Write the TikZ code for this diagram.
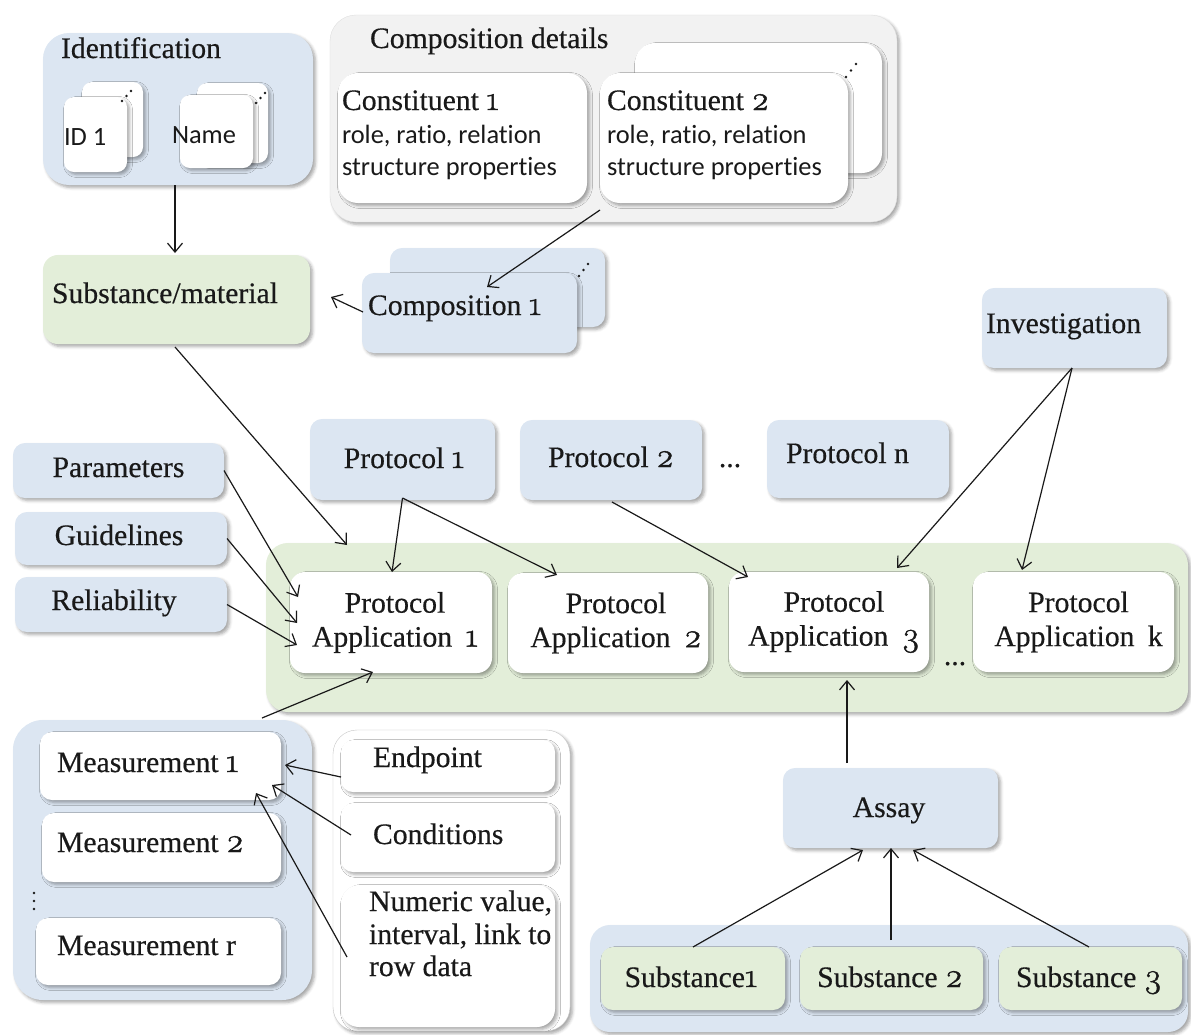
\documentclass[tikz,border=0pt]{standalone}
\usepackage{fontspec}
\setmainfont{Liberation Serif}[FakeBold=0.4]
\newfontfamily\calfont{Carlito}[Ligatures=NoCommon]
\newfontfamily\osfont{Latin Modern Roman}[Numbers=OldStyle, Scale=1.15, FakeBold=1.2]
\usetikzlibrary{arrows.meta,fit,calc,shadows.blur}
\definecolor{paleblue}{RGB}{220,230,242}
\definecolor{palegreen}{RGB}{227,238,217}
\definecolor{palegray}{RGB}{242,242,242}
\definecolor{ink}{RGB}{25,25,25}
\newcommand\os[1]{{\osfont #1}}

\begin{document}
\begin{tikzpicture}[x=1pt,y=-1pt,
  every node/.style={inner sep=0pt, outer sep=0pt, text=ink,
    font=\fontsize{29.7}{34}\selectfont},
  sans/.style={font=\calfont\fontsize{26.4}{33}\selectfont},
  soft/.style={blur shadow={shadow xshift=2.5pt, shadow yshift=-2.5pt,
    shadow blur radius=3pt, shadow opacity=35}},
  card/.style={soft, fill=white, rounded corners=12pt},
  bluebox/.style={soft, fill=paleblue, rounded corners=12pt},
  greenbox/.style={soft, fill=palegreen, rounded corners=12pt},
  group/.style={rounded corners=26pt},
  link/.style={draw=ink, line width=1.2pt,
    -{Straight Barb[length=9pt,width=15pt,line width=1.2pt]}},
  dot/.style={fill=ink}
]
\useasboundingbox (0,0) rectangle (1191,1034);

% ---------- identification ----------
\node[bluebox, group, fit={(43,33)(313,185)}] (ident) {};
\node[anchor=base west] (identT) at (61,58) {Identification};
\node[card, rounded corners=10pt, fit={(82,82)(143,157)}] (idB) {};
\node[card, rounded corners=10pt, fit={(64,97)(127,172)}] (idF) {};
\node[sans, anchor=base west] (idT) at (64,145) {ID 1};
\node[card, rounded corners=10pt, fit={(197,83)(268,163)}] (nameB) {};
\node[card, rounded corners=10pt, fit={(180,95)(253,168)}] (nameF) {};
\node[sans, anchor=base west] (nameT) at (172,143) {Name};
\foreach \t in {0,0.5,1} {
  \fill[dot] ($(122,101)!\t!(131,91)$) circle (1.3pt);
  \fill[dot] ($(256,103)!\t!(265,93)$) circle (1.3pt);
}

% ---------- composition details ----------
\node[soft, group, fill=palegray, draw=black!12, fit={(330,15)(897,222)}] (compdet) {};
\node[anchor=base west] (compdetT) at (370,48) {Composition details};
\node[card, rounded corners=20pt, fit={(635,43)(882,173)}] (conB) {};
\node[card, rounded corners=20pt, fit={(338,73)(587,203)}] (con1) {};
\node[card, rounded corners=20pt, fit={(600,73)(848,203)}] (con2) {};
\node[anchor=base west] (con1a) at (342,110) {Constituent \os{1}};
\node[sans, anchor=base west] (con1b) at (342,143) {role, ratio, relation};
\node[sans, anchor=base west] (con1c) at (342,175) {structure properties};
\node[anchor=base west] (con2a) at (607,110) {Constituent \os{2}};
\node[sans, anchor=base west] (con2b) at (607,143) {role, ratio, relation};
\node[sans, anchor=base west] (con2c) at (607,175) {structure properties};
\foreach \t in {0,0.5,1}
  \fill[dot] ($(846,77)!\t!(856,64)$) circle (1.3pt);

% ---------- substance and composition ----------
\node[greenbox, rounded corners=15pt, fit={(43,255)(310,344)}] (subst) {};
\node[anchor=base west] (substT) at (52,303) {Substance/material};
\node[bluebox, fit={(390,248)(605,327)}] (compB) {};
\node[bluebox, fit={(362,273)(577,353)}] (compF) {};
\node[anchor=base west] (compT) at (368,315) {Composition \os{1}};
\foreach \t in {0,0.5,1}
  \fill[dot] ($(579,276)!\t!(588,264)$) circle (1.3pt);

% ---------- inputs on the left ----------
\node[bluebox, fit={(13,443)(224,498)}] (params) {};
\node[bluebox, fit={(15,512)(227,565)}] (guide) {};
\node[bluebox, fit={(15,577)(227,632)}] (reliab) {};
\node[anchor=base] (paramsT) at ($(params.center)+(0,6.5)$) {Parameters};
\node[anchor=base] (guideT) at ($(guide.center)+(-2,6.5)$) {Guidelines};
\node[anchor=base] (reliabT) at ($(reliab.center)+(-7,5.5)$) {Reliability};

% ---------- protocols and investigation ----------
\node[bluebox, fit={(310,419)(495,500)}] (prot1) {};
\node[bluebox, fit={(520,420)(702,500)}] (prot2) {};
\node[anchor=base] (prot1T) at ($(prot1.center)+(1.5,8.5)$) {Protocol \os{1}};
\node[anchor=base] (prot2T) at ($(prot2.center)+(0,7)$) {Protocol \os{2}};
\node[anchor=base] (pdots) at (730,467) {...};
\node[bluebox, fit={(767,420)(949,498)}] (protn) {};
\node[anchor=base west] (protnT) at (786,463) {Protocol n};
\node[bluebox, fit={(982,288)(1167,368)}] (invest) {};
\node[anchor=base west] (investT) at (986,333) {Investigation};

% ---------- protocol applications ----------
\node[greenbox, rounded corners=22pt, fit={(266,543)(1188,712)}] (paband) {};
\node[card, rounded corners=15pt, fit={(290,572)(492,673)}] (pa1) {};
\node[card, rounded corners=15pt, fit={(508,573)(708,673)}] (pa2) {};
\node[card, rounded corners=15pt, fit={(729,572)(929,672)}] (pa3) {};
\node[card, rounded corners=15pt, fit={(973,572)(1174,672)}] (pak) {};
\node[align=center] (pa1T) at ($(pa1.center)+(4,0)$) {Protocol\\Application\hspace{0.45em}\os{1}};
\node[align=center] (pa2T) at ($(pa2.center)+(8,0)$) {Protocol\\Application\hspace{0.45em}\os{2}};
\node[align=center] (pa3T) at ($(pa3.center)+(5,0)$) {Protocol\\Application\hspace{0.45em}\os{3}};
\node[align=center] (pakT) at ($(pak.center)+(5,0)$) {Protocol\\Application\hspace{0.45em}k};
\node[anchor=base] (padots) at (955,665) {...};

% ---------- assay and substances ----------
\node[bluebox, fit={(783,768)(998,848)}] (assay) {};
\node[anchor=base] (assayT) at ($(assay.center)+(-1.5,9)$) {Assay};
\node[bluebox, rounded corners=20pt, fit={(590,925)(1188,1032)}] (subpanel) {};
\node[greenbox, fit={(601,947)(785,1010)}] (s1) {};
\node[greenbox, fit={(800,947)(983,1010)}] (s2) {};
\node[greenbox, fit={(999,947)(1182,1010)}] (s3) {};
\node[anchor=base] (s1T) at ($(s1.center)+(-2,8.5)$) {Substance\os{1}};
\node[anchor=base] (s2T) at ($(s2.center)+(-1.5,8.5)$) {Substance \os{2}};
\node[anchor=base] (s3T) at ($(s3.center)+(-1.5,8.5)$) {Substance \os{3}};

% ---------- measurements ----------
\node[bluebox, group, rounded corners=30pt, fit={(13,720)(312,1000)}] (meas) {};
\node[card, fit={(40,732)(281,800)}] (m1) {};
\node[card, fit={(42,813)(281,882)}] (m2) {};
\node[card, fit={(36,918)(281,985)}] (mr) {};
\node[anchor=base west] (m1T) at (57,772) {Measurement \os{1}};
\node[anchor=base west] (m2T) at (57,852) {Measurement \os{2}};
\node[anchor=base west] (mrT) at (57,955) {Measurement r};
\foreach \y in {893,901,909}
  \fill[dot] (34,\y) circle (1.4pt);

% ---------- measurement details ----------
\node[soft, fill=white, draw=black!22, rounded corners=24pt, fit={(333,730)(570,1031)}] (detpanel) {};
\node[card, fit={(341,740)(555,792)}] (endp) {};
\node[card, fit={(341,803)(555,872)}] (cond) {};
\node[card, rounded corners=18pt, fit={(341,885)(555,1027)}] (numer) {};
\node[anchor=base west] (endpT) at (373,767) {Endpoint};
\node[anchor=base west] (condT) at (373,844) {Conditions};
\node[anchor=base west] (num1) at (369,911) {Numeric value,};
\node[anchor=base west] (num2) at (369,944) {interval, link to};
\node[anchor=base west] (num3) at (369,976) {row data};

% ---------- connectors ----------
\draw[link] ($(ident.south)+(-3,0)$) -- ($(subst.north)+(-1.5,-2)$);
\draw[link] ($(con2.south west)+(0,7)$) -- ($(compF.north west)+(125,14)$);
\draw[link] ($(compF.west)+(1,-1)$) -- ($(subst.east)+(21,-2.5)$);
\draw[link] ($(subst.south)+(-1.5,3)$) -- ($(paband.north west)+(81,2)$);
\draw[link] (params.east) -- ($(pa1.west)+(8,-25.5)$);
\draw[link] (guide.east) -- ($(pa1.west)+(7,0.5)$);
\draw[link] (reliab.east) -- ($(pa1.west)+(7,22.5)$);
\draw[link] ($(prot1.south)+(0,-2)$) -- ($(pa1.north)+(1,0)$);
\draw[link] ($(prot1.south)+(0,-2)$) -- ($(pa2.north west)+(49,2)$);
\draw[link] ($(prot2.south)+(1,2)$) -- ($(pa3.north west)+(19,5)$);
\draw[link] ($(invest.south)+(-2.5,0)$) -- ($(pa3.north east)+(-32,-4)$);
\draw[link] ($(invest.south)+(-2.5,0)$) -- ($(pak.north)+(-51.5,-2)$);
\draw[link] ($(assay.north)+(-43.5,-5)$) -- ($(pa3.south)+(18,8)$);
\draw[link] ($(meas.north east)+(-50,-2)$) -- ($(pa1.south)+(-18,-1)$);
\draw[link] ($(endp.west)+(0,11)$) -- ($(m1.east)+(4,-1)$);
\draw[link] ($(cond.west)+(10,-2.5)$) -- ($(m1.south east)+(-9,-15)$);
\draw[link] ($(numer.west)+(6,1)$) -- ($(m1.south east)+(-25,-7)$);
\draw[link] (s1.north) -- ($(assay.south)+(-27.5,2)$);
\draw[link] ($(s2.north)+(-0.5,-7)$) -- ($(assay.south)+(0.5,0)$);
\draw[link] ($(s3.north)+(-1.5,0)$) -- ($(assay.south)+(22.5,2)$);
\end{tikzpicture}
\end{document}
